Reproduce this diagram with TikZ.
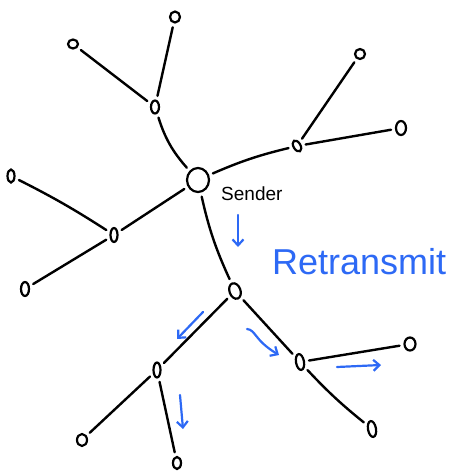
\documentclass[tikz,border=0pt]{standalone}
\usepackage{fontspec}
\setmainfont{Liberation Sans}
\usetikzlibrary{shapes,arrows.meta,positioning}
\definecolor{penblue}{RGB}{45,105,245}

\begin{document}
\begin{tikzpicture}[x=1pt, y=-1pt,
    host/.style={ellipse, draw=black, line width=2.2pt, minimum width=#1, minimum height=13pt, inner sep=0pt},
    host/.default=8pt,
    link/.style={draw=black, line width=2.4pt, line cap=round, shorten <=4pt, shorten >=4pt},
    resend/.style={draw=penblue, line width=2.2pt, line cap=round, -{Straight Barb[length=6pt,width=11pt]}},
    lbl/.style={font=\fontsize{#1}{#1}\selectfont, inner sep=0pt, anchor=base west}
]
\useasboundingbox (0,0) rectangle (450,472);

% Sender
\node[host=22pt, minimum height=24pt] (sender) at (198,180) {};
\node[lbl=19] at (221,200) {Sender};

% upper left branch
\node[host] (tl) at (155,107) {};
\node[host=10pt, minimum height=11pt] (tlA) at (175,17) {};
\node[host=10pt, minimum height=9pt] (tlB) at (73,44) {};

% upper right branch
\node[host=7pt, minimum height=12pt, rotate=30] (tr) at (297,146) {};
\node[host=10pt, minimum height=10pt] (trA) at (360,54) {};
\node[host=10pt, minimum height=14pt] (trB) at (401,128) {};

% left branch
\node[host=7pt, minimum height=14pt] (lt) at (114,235) {};
\node[host=7pt, minimum height=13pt] (ltA) at (11,176) {};
\node[host=8pt, minimum height=14pt] (ltB) at (25,289) {};

% downstream
\node[host=11pt, minimum height=16pt, rotate=20] (dn) at (235,291) {};
\node[host=7pt, minimum height=15pt] (dl) at (157,370) {};
\node[host=10pt, minimum height=12pt] (dlA) at (82,440) {};
\node[host=8pt, minimum height=12pt] (dlB) at (177,463) {};
\node[host=8pt, minimum height=16pt, rotate=10] (dr) at (300,362) {};
\node[host=11pt, minimum height=13pt] (drA) at (410,344) {};
\node[host=8pt, minimum height=16pt, rotate=10] (drB) at (372,429) {};

% links
\draw[link] (sender) to[bend left=12] (tl);
\draw[link] (tl) -- (tlA);
\draw[link] (tl) -- (tlB);
\draw[link] (sender) to[bend left=5] (tr);
\draw[link] (tr) -- (trA);
\draw[link] (tr) -- (trB);
\draw[link] (sender) -- (lt);
\draw[link] (lt) to[bend right=3] (ltA);
\draw[link] (lt) -- (ltB);
\draw[link] (sender) to[bend right=6] (dn);
\draw[link] (dn) -- (dl);
\draw[link] (dl) -- (dlA);
\draw[link] (dl) -- (dlB);
\draw[link] (dn) -- (dr);
\draw[link] (dr) -- (drA);
\draw[link] (dr) to[bend right=4] (drB);

% retransmit arrows
\coordinate (r1s) at (238,215); \coordinate (r1e) at (238,247);
\coordinate (r2s) at (203,312); \coordinate (r2e) at (177,339);
\coordinate (r3s) at (247,329); \coordinate (r3e) at (279,355);
\coordinate (r4s) at (337,367); \coordinate (r4e) at (381,365);
\coordinate (r5s) at (180,395); \coordinate (r5e) at (183,429);
\draw[resend] (r1s) -- (r1e);
\draw[resend] (r2s) -- (r2e);
\draw[resend] (r3s) .. controls (256,330) and (254,340) .. (r3e);
\draw[resend] (r4s) -- (r4e);
\draw[resend] (r5s) -- (r5e);

\node[lbl=36, text=penblue] (retx) at (272,274) {Retransmit};
\end{tikzpicture}
\end{document}
